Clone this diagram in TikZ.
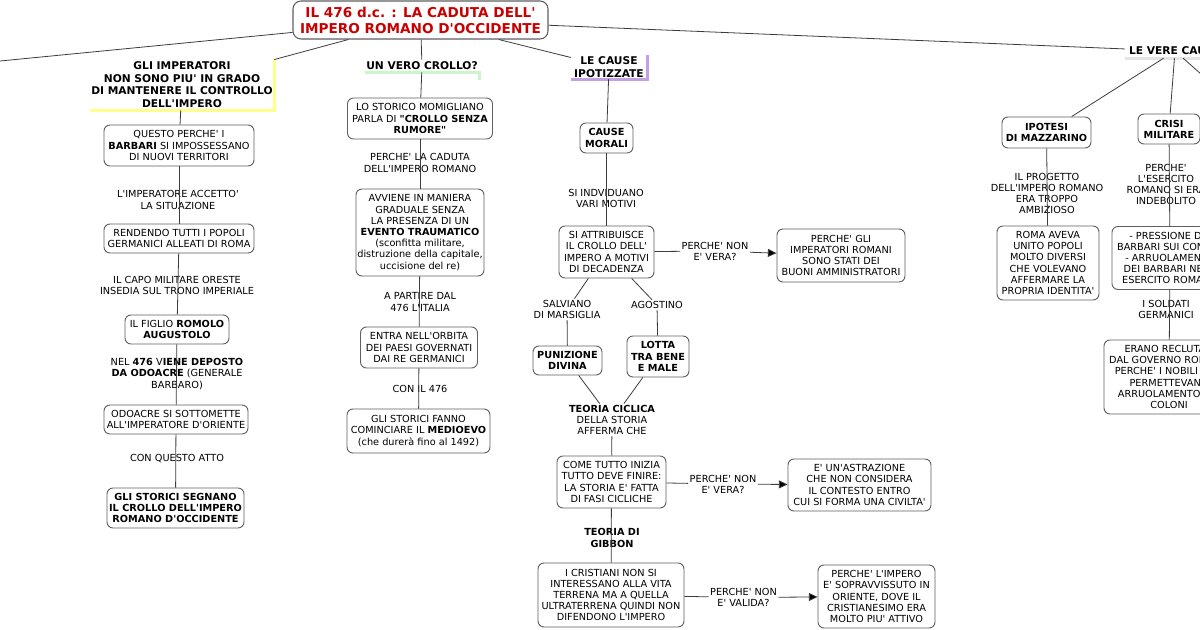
\documentclass[tikz,border=0pt]{standalone}
\usepackage{fontspec}
\setmainfont{DejaVu Sans}[Ligatures=TeXOff]
\usetikzlibrary{arrows.meta}
\definecolor{bordc}{RGB}{95,95,95}
\definecolor{linec}{RGB}{60,60,60}
\definecolor{titred}{RGB}{200,0,0}
\definecolor{hlyel}{RGB}{255,255,140}
\definecolor{hlgrn}{RGB}{205,245,205}
\definecolor{hlpur}{RGB}{195,160,230}
\definecolor{hlgry}{RGB}{228,228,228}
\begin{document}
\begin{tikzpicture}[x=0.75pt,y=-0.75pt,
 box/.style={draw=bordc, line width=0.7pt, rounded corners=4.5pt, fill=white, align=center, inner sep=1pt, font=\fontsize{7.3}{8.4}\selectfont},
 sz/.style 2 args={minimum width=#1*0.75pt, minimum height=#2*0.75pt},
 lbl/.style={align=center, inner sep=1pt, font=\fontsize{7.3}{8.4}\selectfont},
 head/.style={align=center, inner sep=0pt, font=\fontsize{8}{9.4}\selectfont\bfseries},
 conn/.style={draw=linec, line width=0.6pt},
 arr/.style={conn, -{Triangle[length=6.5pt,width=6pt,fill=black]}},
 hbar/.style={line width=2pt},
]
\useasboundingbox (0,0) rectangle (1200,630);
\fill[white] (0,0) rectangle (1200,630);
\clip (0,0) rectangle (1200,630);

% title
\node[box, sz={255}{38}, rounded corners=6pt, line width=0.8pt, font=\fontsize{10.2}{12}\selectfont\bfseries, text=titred] (title) at (420.5,20) {IL 476 d.c. : LA CADUTA DELL'\\IMPERO ROMANO D'OCCIDENTE};
\coordinate (offL) at (-10,62);
\coordinate (offR) at (1255,122);

% headings
\node[head, sz={184}{51}] (h1) at (182,84.5) {GLI IMPERATORI\\NON SONO PIU' IN GRADO\\DI MANTENERE IL CONTROLLO\\DELL'IMPERO};
\node[head, sz={114}{12}] (h2) at (422,66) {UN VERO CROLLO?};
\node[head, sz={76}{24}] (h3) at (609,67) {LE CAUSE\\IPOTIZZATE};
\node[head, sz={100}{14}] (h4) at (1175,51) {LE VERE CAUSE};
\draw[hbar, hlyel] (h1.north east) -- (h1.south east) -- (h1.south west);
\draw[hbar, hlgrn] ([yshift=-6pt]h2.south east) -- (h2.south east) -- (h2.south west);
\draw[hbar, hlpur] (h3.north east) -- (h3.south east) -- (h3.south west);
\draw[hbar, hlgry] (h4.south east) -- (h4.south west);

% left column
\node[box, sz={150}{41}] (b1) at (179,145.5) {QUESTO PERCHE' I\\\textbf{BARBARI} SI IMPOSSESSANO\\DI NUOVI TERRITORI};
\node[lbl] (l1) at (178,200) {L'IMPERATORE ACCETTO'\\LA SITUAZIONE};
\node[box, sz={150}{29}] (b2) at (179,238.5) {RENDENDO TUTTI I POPOLI\\GERMANICI ALLEATI DI ROMA};
\node[lbl] (l2) at (177,285.5) {IL CAPO MILITARE ORESTE\\INSEDIA SUL TRONO IMPERIALE};
\node[box, sz={104}{29}] (b3) at (177,329.5) {IL FIGLIO \textbf{ROMOLO}\\\textbf{AUGUSTOLO}};
\node[lbl] (l3) at (177,374) {NEL \textbf{476} V\textbf{IENE DEPOSTO}\\\textbf{DA ODOACRE} (GENERALE\\BARBARO)};
\node[box, sz={144}{29}] (b4) at (176,419.5) {ODOACRE SI SOTTOMETTE\\ALL'IMPERATORE D'ORIENTE};
\node[lbl] (l4) at (177,459) {CON QUESTO ATTO};
\node[box, sz={137}{40}] (b5) at (175.5,508) {\textbf{GLI STORICI SEGNANO}\\\textbf{IL CROLLO DELL'IMPERO}\\\textbf{ROMANO D'OCCIDENTE}};

% middle column
\node[box, sz={145}{41}] (m1) at (420,118.5) {LO STORICO MOMIGLIANO\\PARLA DI \textbf{"CROLLO SENZA}\\\textbf{RUMORE"}};
\node[lbl] (lm1) at (420,163) {PERCHE' LA CADUTA\\DELL'IMPERO ROMANO};
\node[box, sz={128}{87}] (m2) at (420,232.5) {AVVIENE IN MANIERA\\GRADUALE SENZA\\LA PRESENZA DI UN\\\textbf{EVENTO TRAUMATICO}\\(sconfitta militare,\\distruzione della capitale,\\uccisione del re)};
\node[lbl] (lm2) at (420,302) {A PARTIRE DAL\\476 L'ITALIA};
\node[box, sz={117}{41}] (m3) at (419,347.5) {ENTRA NELL'ORBITA\\DEI PAESI GOVERNATI\\DAI RE GERMANICI};
\node[lbl] (lm3) at (420,389) {CON IL 476};
\node[box, sz={143}{44}] (m4) at (418.5,431) {GLI STORICI FANNO\\COMINCIARE IL \textbf{MEDIOEVO}\\(che durerà fino al 1492)};

% third column
\node[box, sz={53}{30}] (cm) at (606.5,138) {\textbf{CAUSE}\\\textbf{MORALI}};
\node[lbl] (lc1) at (606,198.5) {SI INDVIDUANO\\VARI MOTIVI};
\node[box, sz={95}{52}] (sa) at (606.5,252) {SI ATTRIBUISCE\\IL CROLLO DELL'\\IMPERO A MOTIVI\\DI DECADENZA};
\node[lbl] (lc2) at (715,251) {PERCHE' NON\\E' VERA?};
\node[box, sz={128}{53}] (ba) at (841,255.5) {PERCHE' GLI\\IMPERATORI ROMANI\\SONO STATI DEI\\BUONI AMMINISTRATORI};
\node[lbl] (lsal) at (567,309.5) {SALVIANO\\DI MARSIGLIA};
\node[lbl] (lago) at (657,305) {AGOSTINO};
\node[box, sz={69}{29}] (pd) at (567.5,360.5) {\textbf{PUNIZIONE}\\\textbf{DIVINA}};
\node[box, sz={62}{41}] (lb) at (658,356.5) {\textbf{LOTTA}\\\textbf{TRA BENE}\\\textbf{E MALE}};
\node[lbl] (ltc) at (612,420) {\textbf{TEORIA CICLICA}\\DELLA STORIA\\AFFERMA CHE};
\node[box, sz={109}{52}] (ct) at (611.5,482) {COME TUTTO INIZIA\\TUTTO DEVE FINIRE:\\LA STORIA E' FATTA\\DI FASI CICLICHE};
\node[lbl] (lc3) at (723,484) {PERCHE' NON\\E' VERA?};
\node[box, sz={143}{52}] (ea) at (859.5,485) {E' UN'ASTRAZIONE\\CHE NON CONSIDERA\\IL CONTESTO ENTRO\\CUI SI FORMA UNA CIVILTA'};
\node[lbl] (lg) at (612,538) {\textbf{TEORIA DI}\\\textbf{GIBBON}};
\node[box, sz={146}{64}] (cr) at (611,595) {I CRISTIANI NON SI\\INTERESSANO ALLA VITA\\TERRENA MA A QUELLA\\ULTRATERRENA QUINDI NON\\DIFENDONO L'IMPERO};
\node[lbl] (lc4) at (743.5,597.5) {PERCHE' NON\\E' VALIDA?};
\node[box, sz={117}{63}] (pi) at (876.5,596.5) {PERCHE' L'IMPERO\\E' SOPRAVVISSUTO IN\\ORIENTE, DOVE IL\\CRISTIANESIMO ERA\\MOLTO PIU' ATTIVO};

% right part
\node[box, sz={89}{31}] (im) at (1046.5,132.5) {\textbf{IPOTESI}\\\textbf{DI MAZZARINO}};
\node[lbl] (lim) at (1047,193.5) {IL PROGETTO\\DELL'IMPERO ROMANO\\ERA TROPPO\\AMBIZIOSO};
\node[box, sz={102}{74}] (ra) at (1048,263) {ROMA AVEVA\\UNITO POPOLI\\MOLTO DIVERSI\\CHE VOLEVANO\\AFFERMARE LA\\PROPRIA IDENTITA'};
\node[box, sz={62}{30}] (cmil) at (1169,129) {\textbf{CRISI}\\\textbf{MILITARE}};
\node[lbl] (lcm) at (1166,184.5) {PERCHE'\\L'ESERCITO\\ROMANO SI ERA\\INDEBOLITO};
\node[box, sz={116}{63}] (pb) at (1170,258) {- PRESSIONE DEI\\BARBARI SUI CONFINI\\- ARRUOLAMENTO\\DEI BARBARI NELL'\\ESERCITO ROMANO};
\node[lbl] (lsg) at (1166,309.5) {I SOLDATI\\GERMANICI};
\node[box, sz={130}{74}] (er) at (1169,377) {ERANO RECLUTATI\\DAL GOVERNO ROMANO\\PERCHE' I NOBILI NON\\PERMETTEVANO\\ARRUOLAMENTO DEI\\COLONI};

% connectors
\draw[conn] (title) -- (offL);
\draw[conn] (title) -- (h1);
\draw[conn] (title) -- (h2);
\draw[conn] (title) -- (h3);
\draw[conn] (title) -- (h4);

\draw[conn] (h1) -- (b1);
\draw[conn] (b1) -- (b2);
\draw[conn] (b2) -- (b3);
\draw[conn] (b3) -- (b4);
\draw[conn] (b4) -- (b5);

\draw[conn] (h2) -- (m1);
\draw[conn] (m1) -- (m2);
\draw[conn] (m2) -- (m3);
\draw[conn] (m3) -- (m4);

\draw[conn] (h3) -- (cm);
\draw[conn] (cm) -- (sa);
\draw[conn] (sa) -- (lc2);
\draw[arr] (lc2) -- (ba);
\draw[conn] (sa) -- (lsal);
\draw[conn] (lsal) -- (pd);
\draw[conn] (sa) -- (lago);
\draw[conn] (lago) -- (lb);
\draw[conn] (pd) -- (ltc);
\draw[conn] (lb) -- (ltc);
\draw[conn] (ltc) -- (ct);
\draw[conn] (ct) -- (lc3);
\draw[arr] (lc3) -- (ea);
\draw[conn] (ct) -- (cr);
\draw[conn] (cr) -- (lc4);
\draw[arr] (lc4) -- (pi);

\draw[conn] (h4) -- (im);
\draw[conn] (h4) -- (cmil);
\draw[conn] (h4) -- (offR);
\draw[conn] (im) -- (ra);
\draw[conn] (cmil) -- (pb);
\draw[conn] (pb) -- (er);
\end{tikzpicture}
\end{document}
